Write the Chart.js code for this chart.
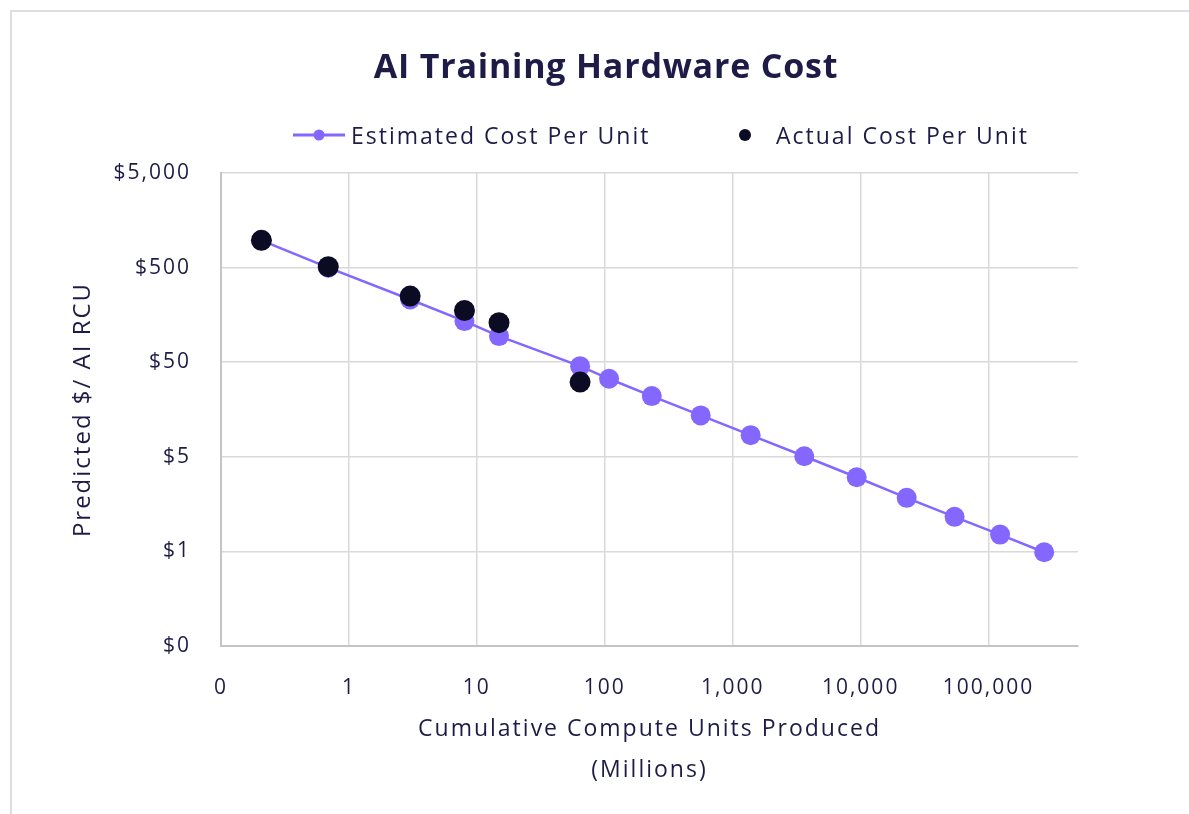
<!DOCTYPE html>
<html>
<head>
<meta charset="utf-8">
<title>AI Training Hardware Cost</title>
<script src="https://cdn.jsdelivr.net/npm/chart.js@4.4.0/dist/chart.umd.min.js"></script>
<style>
  html, body { margin: 0; padding: 0; background: #ffffff; }
  #wrap { position: relative; width: 1189px; height: 814px; }
</style>
</head>
<body>
<div id="wrap"><canvas id="costChart" width="1189" height="814"></canvas></div>
<script>
// --- DATA ---
const chartTitle = 'AI Training Hardware Cost';
const estimatedLabel = 'Estimated Cost Per Unit';
const actualLabel = 'Actual Cost Per Unit';

// cumulative units produced (millions)
const estimatedUnits = [0.207, 0.689, 3.01, 8.0, 14.9, 64.1, 108, 233, 562, 1381, 3624, 9310, 22900, 54200, 123000, 272000];
const estimatedCost = [970, 499, 230, 136, 94.4, 45.4, 33.4, 21.9, 13.7, 8.46, 5.07, 3.04, 1.84, 1.16, 0.753, 0.49];

const actualUnits = [0.207, 0.689, 3.01, 8.0, 14.9, 64.1];
const actualCost = [970, 512, 250, 176, 131, 30.8];

const xTickValues = [0.1, 1, 10, 100, 1000, 10000, 100000];
const xTickLabels = ['0', '1', '10', '100', '1,000', '10,000', '100,000'];
const yTickValues = [0.05, 0.5, 5, 50, 500, 5000];
const yTickLabels = ['$0', '$1', '$5', '$50', '$500', '$5,000'];

// --- STYLE ---
const PURPLE = '#8467ff';
const DARK = '#0c0b24';
const TEXT = '#1e1c46';
const FONT = '"Open Sans", Lato, sans-serif';
const TRACKING = '2px'; // police d'origine plus large

const toPoints = (xs, ys) => xs.map((x, i) => ({ x: x, y: ys[i] }));

// titre + legende + cadre dessines a la main
const decorPlugin = {
    id: 'decor',
    beforeDraw(chart) {
        const ctx = chart.ctx;
        ctx.save();
        ctx.fillStyle = '#ffffff';
        ctx.fillRect(0, 0, chart.width, chart.height);
        ctx.strokeStyle = '#dedde6';
        ctx.lineWidth = 2;
        ctx.beginPath();
        ctx.moveTo(11, chart.height);
        ctx.lineTo(11, 11);
        ctx.lineTo(chart.width, 11);
        ctx.stroke();
        ctx.restore();
        // espacement des lettres pour les axes (herite par Chart.js)
        ctx.letterSpacing = TRACKING;
    },
    afterDraw(chart) {
        const ctx = chart.ctx;
        ctx.save();
        ctx.fillStyle = TEXT;
        ctx.textBaseline = 'middle';

        // title
        ctx.letterSpacing = '0.8px';
        ctx.font = 'bold 34px ' + FONT;
        ctx.textAlign = 'center';
        ctx.fillText(chartTitle, 606, 68);

        // legend
        ctx.letterSpacing = TRACKING;
        ctx.font = '23px ' + FONT;
        ctx.textAlign = 'left';
        ctx.strokeStyle = PURPLE;
        ctx.lineWidth = 3;
        ctx.beginPath();
        ctx.moveTo(293, 135);
        ctx.lineTo(345, 135);
        ctx.stroke();
        ctx.fillStyle = PURPLE;
        ctx.beginPath();
        ctx.arc(319, 135, 5.5, 0, Math.PI * 2);
        ctx.fill();
        ctx.fillStyle = TEXT;
        ctx.fillText(estimatedLabel, 351, 137);

        ctx.fillStyle = DARK;
        ctx.beginPath();
        ctx.arc(745, 135, 6, 0, Math.PI * 2);
        ctx.fill();
        ctx.fillStyle = TEXT;
        ctx.fillText(actualLabel, 776, 137);
        ctx.restore();
        ctx.letterSpacing = '0px';
    }
};

const ctx = document.getElementById('costChart').getContext('2d');
const myChart = new Chart(ctx, {
    type: 'scatter',
    data: {
        datasets: [
            {
                label: actualLabel,
                data: toPoints(actualUnits, actualCost),
                backgroundColor: DARK,
                borderColor: DARK,
                pointRadius: 10.5,
                pointBorderWidth: 0,
                showLine: false,
                order: 0
            },
            {
                label: estimatedLabel,
                data: toPoints(estimatedUnits, estimatedCost),
                backgroundColor: PURPLE,
                borderColor: PURPLE,
                borderWidth: 2.5,
                pointRadius: 10,
                pointBorderWidth: 0,
                showLine: true,
                tension: 0,
                order: 1
            }
        ]
    },
    options: {
        responsive: false,
        animation: false,
        layout: { padding: { left: 0, right: 111, top: 173, bottom: 0 } },
        plugins: {
            legend: { display: false },
            title: { display: false },
            tooltip: { enabled: false }
        },
        scales: {
            x: {
                type: 'logarithmic',
                min: 0.1,
                max: 500000,
                afterFit: (scale) => { scale.height = 168; },
                afterBuildTicks: (scale) => {
                    scale.ticks = xTickValues.map(v => ({ value: v }));
                },
                ticks: {
                    autoSkip: false,
                    maxRotation: 0,
                    padding: 29,
                    color: TEXT,
                    font: { family: FONT, size: 21 },
                    callback: (value) => {
                        const i = xTickValues.indexOf(value);
                        return i >= 0 ? xTickLabels[i] : '';
                    }
                },
                grid: { color: '#d9d9d9', lineWidth: 1.5, drawTicks: false },
                border: { color: '#c4c4c4', width: 2 },
                title: {
                    display: true,
                    text: ['Cumulative Compute Units Produced', '(Millions)'],
                    color: TEXT,
                    font: { family: FONT, size: 23, lineHeight: 1.77 },
                    padding: { top: 0, bottom: 23 }
                }
            },
            y: {
                type: 'logarithmic',
                min: 0.05,
                max: 5000,
                afterFit: (scale) => { scale.width = 221; },
                afterBuildTicks: (scale) => {
                    scale.ticks = yTickValues.map(v => ({ value: v }));
                },
                ticks: {
                    autoSkip: false,
                    padding: 30,
                    color: TEXT,
                    font: { family: FONT, size: 21 },
                    callback: (value) => {
                        const i = yTickValues.indexOf(value);
                        return i >= 0 ? yTickLabels[i] : '';
                    }
                },
                grid: { color: '#d9d9d9', lineWidth: 1.5, drawTicks: false },
                border: { color: '#c4c4c4', width: 2 },
                title: {
                    display: true,
                    text: 'Predicted $/ AI RCU',
                    color: TEXT,
                    font: { family: FONT, size: 24, lineHeight: 1.2 },
                    padding: { top: 69, bottom: 0 }
                }
            }
        }
    },
    plugins: [decorPlugin]
});
</script>
</body>
</html>
